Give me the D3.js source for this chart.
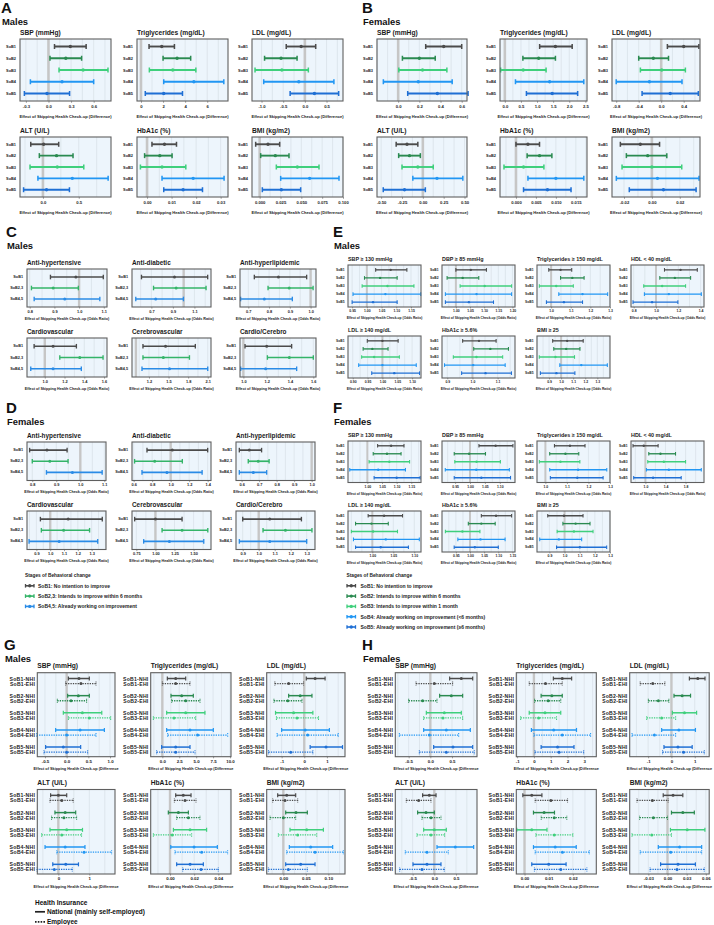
<!DOCTYPE html>
<html><head><meta charset="utf-8">
<script src="https://cdn.jsdelivr.net/npm/d3@7"></script>
<style>body{margin:0;background:#fff} svg{display:block} text{font-family:"Liberation Sans",Arial,sans-serif}</style>
</head><body><svg id="chart" width="714" height="925"></svg>
<script>
// ---------------- DATA ----------------
const SOB5 = ["SoB1","SoB2","SoB3","SoB4","SoB5"];
const SOB3 = ["SoB1","SoB2,3","SoB4,5"];
const SOB_INS = ["SoB1-NHI","SoB1-EHI","SoB2-NHI","SoB2-EHI","SoB3-NHI","SoB3-EHI","SoB4-NHI","SoB4-EHI","SoB5-NHI","SoB5-EHI"];

const DIFF_TITLES = ["SBP (mmHg)","Triglycerides (mg/dL)","LDL (mg/dL)","ALT (U/L)","HbA1c (%)","BMI (kg/m2)"];
const MED_TITLES = ["Anti-hypertensive","Anti-diabetic","Anti-hyperlipidemic","Cardiovascular","Cerebrovascular","Cardio/Cerebro"];
const RISK_TITLES = ["SBP \u2265 130 mmHg","DBP \u2265 85 mmHg","Triglycerides \u2265 150 mg/dL","HDL < 40 mg/dL","LDL \u2265 140 mg/dL","HbA1c \u2265 5.6%","BMI \u2265 25"];

// Panel A (Males, difference)
const A_ticks = [["-0.3","0.0","0.3","0.6"],["0","2","4","6"],["-1.0","-0.5","0.0","0.5"],["0.0","0.5"],["0.00","0.01","0.02","0.03"],["0.000","0.025","0.050","0.075","0.100"]];
const A_domain = [[-0.378,0.83],[-0.36,7.88],[-1.22,0.88],[-0.32,0.95],[-0.0041,0.033],[-0.0092,0.1]];
const A_low  = [[0.08,0.02,0.14,-0.24,-0.32],[0.73,2.0,0.76,2.06,0.39],[-0.43,-0.93,-1.15,-0.95,-0.34],[-0.17,-0.05,-0.18,-0.07,-0.27],[0.002,-0.001,-0.0027,0.0061,0.0068],[-0.0048,0.0012,0.02,0.0252,0.0032]];
const A_est  = [[0.29,0.23,0.46,0.18,-0.02],[1.88,3.27,2.88,4.79,2.06],[-0.085,-0.55,-0.53,-0.14,0.22],[0.01,0.19,0.2,0.41,0.05],[0.0071,0.0052,0.0061,0.0188,0.0147],[0.01,0.0188,0.0452,0.06,0.026]];
const A_high = [[0.5,0.44,0.79,0.6,0.28],[3.03,4.5,4.97,7.5,3.76],[0.25,-0.18,0.08,0.67,0.78],[0.22,0.42,0.57,0.91,0.37],[0.012,0.0102,0.0158,0.0314,0.0226],[0.024,0.0352,0.0712,0.0952,0.0492]];

// Panel B (Females, difference)
const B_ticks = [["0.0","0.2","0.4","0.6"],["0.0","0.5","1.0","1.5","2.0","2.5"],["-0.8","-0.4","0.0","0.4"],["-0.50","-0.25","0.00","0.25","0.50"],["0.000","0.005","0.010","0.015"],["-0.02","0.00","0.02"]];
const B_domain = [[-0.2,0.65],[-0.15,2.55],[-0.875,0.69],[-0.55,0.53],[-0.004,0.0178],[-0.0286,0.0345]];
const B_low  = [[0.26,0.04,0.006,-0.14,0.09],[1.08,0.56,-0.13,0.33,0.67],[0.11,-0.4,-0.37,-0.8,-0.34],[-0.32,-0.29,-0.25,-0.12,-0.475],[0.0,0.0028,-0.003,0.003,0.0019],[-0.0226,-0.0183,-0.0214,-0.0255,-0.0162]];
const B_est  = [[0.43,0.2,0.23,0.19,0.37],[1.57,1.05,0.57,1.39,1.47],[0.4,-0.14,0.01,-0.21,0.16],[-0.19,-0.16,-0.06,0.17,-0.22],[0.003,0.0059,0.0019,0.01,0.0079],[-0.0083,-0.003,0.0,0.004,0.0083]];
const B_high = [[0.6,0.35,0.46,0.51,0.66],[2.09,1.57,1.28,2.45,2.26],[0.67,0.13,0.43,0.37,0.66],[-0.06,-0.03,0.125,0.48,0.03],[0.0059,0.009,0.007,0.017,0.0138],[0.0055,0.0107,0.0214,0.0338,0.0317]];

// Panel C (Males, odds ratio)
const C_ticks = [["0.8","0.9","1.0","1.1"],["0.7","0.9","1.1"],["0.7","0.8","0.9","1.0"],["1.0","1.2","1.4","1.6"],["1.2","1.5","1.8","2.1"],["1.0","1.2","1.4","1.6"]];
const C_domain = [[0.789,1.113],[0.52,1.254],[0.66,1.026],[0.82,1.63],[0.94,2.15],[0.971,1.623]];
const C_low  = [[0.884,0.807,0.818],[0.608,0.72,0.555],[0.729,0.795,0.663],[0.892,1.152,0.858],[1.108,1.108,1.093],[1.014,1.206,0.977]];
const C_est  = [[0.987,0.895,0.942],[0.915,0.93,0.74],[0.845,0.897,0.777],[1.084,1.354,1.084],[1.454,1.42,1.515],[1.2,1.394,1.191]];
const C_high = [[1.098,0.997,1.084],[1.223,1.208,0.998],[0.981,1.012,0.912],[1.32,1.59,1.37],[1.91,1.82,2.1],[1.414,1.6,1.457]];

// Panel D (Females, odds ratio)
const D_ticks = [["0.8","0.9","1.0","1.1"],["0.6","0.8","1.0","1.2","1.4"],["0.6","0.7","0.8","0.9","1.0"],["0.9","1.0","1.1","1.2","1.3"],["0.75","1.00","1.25","1.50"],["0.9","1.0","1.1","1.2","1.3"]];
const D_domain = [[0.778,1.107],[0.582,1.436],[0.568,1.019],[0.832,1.404],[0.693,1.728],[0.858,1.352]];
const D_low  = [[0.789,0.8,0.859],[0.744,0.61,0.69],[0.587,0.638,0.587],[0.929,0.936,0.847],[0.728,1.087,0.846],[0.9,1.027,0.879]];
const D_est  = [[0.861,0.873,0.967],[1.018,0.827,0.96],[0.644,0.695,0.667],[1.13,1.097,1.065],[1.0,1.349,1.183],[1.069,1.167,1.069]];
const D_high = [[0.945,0.949,1.091],[1.4,1.126,1.34],[0.714,0.757,0.743],[1.377,1.285,1.344],[1.349,1.686,1.633],[1.267,1.333,1.3]];

// Panel E (Males, risk odds ratio)
const E_ticks = [["0.95","1.00","1.05","1.10","1.15"],["1.00","1.05","1.10","1.15","1.20"],["1.0","1.1","1.2","1.3"],["0.8","1.0","1.2","1.4"],["0.90","0.95","1.00","1.05","1.10"],["0.9","1.0","1.1"],["0.9","1.0","1.1","1.2","1.3"]];
const E_domain = [[0.936,1.184],[0.951,1.209],[0.928,1.3],[0.776,1.43],[0.884,1.13],[0.879,1.169],[0.8,1.405]];
const E_low  = [[1.03,0.992,0.984,0.953,0.95],[1.0,0.969,1.015,0.963,0.963],[0.988,1.048,0.94,1.039,0.976],[1.076,1.034,0.89,0.896,0.794],[0.949,0.935,0.93,0.92,0.964],[0.961,1.005,0.924,0.889,0.957],[0.93,0.939,0.819,0.989,0.828]];
const E_est  = [[1.081,1.045,1.07,1.063,1.021],[1.053,1.024,1.102,1.073,1.046],[1.048,1.108,1.026,1.16,1.065],[1.22,1.169,1.055,1.115,0.965],[1.0,0.966,0.972,1.0,1.04],[1.026,1.071,1.016,1.003,1.052],[1.05,1.042,0.953,1.167,0.961]];
const E_high = [[1.136,1.103,1.16,1.183,1.103],[1.108,1.081,1.197,1.197,1.133],[1.105,1.168,1.113,1.288,1.16],[1.37,1.31,1.265,1.406,1.196],[1.053,1.019,1.057,1.114,1.125],[1.094,1.143,1.12,1.13,1.155],[1.183,1.156,1.111,1.383,1.114]];

// Panel F (Females, risk odds ratio)
const F_ticks = [["1.00","1.05","1.10","1.15"],["0.95","1.00","1.05","1.10"],["1.0","1.1","1.2","1.3"],["1.0","1.4","1.8"],["1.00","1.05","1.10"],["0.95","1.00","1.05","1.10","1.15"],["0.9","1.0","1.1","1.2","1.3"]];
const F_domain = [[0.934,1.183],[0.906,1.151],[0.961,1.3],[0.713,2.167],[0.942,1.116],[0.901,1.159],[0.818,1.3]];
const F_low  = [[1.035,1.02,1.006,0.94,1.023],[1.03,0.947,0.949,0.917,0.947],[1.042,1.02,0.972,1.02,1.023],[0.753,1.067,1.047,1.02,0.767],[0.99,0.96,0.95,0.955,0.96],[1.04,0.994,0.913,0.957,0.944],[0.889,0.989,0.951,0.836,0.947]];
const F_est  = [[1.081,1.067,1.075,1.037,1.1],[1.086,0.997,1.022,1.021,1.038],[1.114,1.093,1.07,1.152,1.148],[0.967,1.3,1.367,1.467,1.153],[1.028,0.998,1.002,1.032,1.02],[1.092,1.04,0.973,1.037,1.017],[0.996,1.073,1.062,0.962,1.101]];
const F_high = [[1.125,1.115,1.144,1.13,1.18],[1.144,1.052,1.102,1.132,1.136],[1.184,1.155,1.16,1.285,1.268],[1.253,1.6,1.8,2.113,1.713],[1.072,1.038,1.06,1.112,1.086],[1.147,1.089,1.035,1.124,1.1],[1.122,1.168,1.188,1.113,1.278]];

// Panel G (Males, by health insurance)
const G_ticks = [["-0.5","0.0","0.5","1.0"],["0.0","2.5","5.0","7.5","10.0"],["-1","0","1"],["0","1"],["0.00","0.02","0.04"],["0.00","0.05","0.10"]];
const G_domain = [[-0.677,1.115],[-1.72,10.15],[-1.66,1.8],[-0.68,1.83],[-0.016,0.0505],[-0.037,0.137]];
const G_low  = [[0.04,-0.023,0.023,-0.215,-0.077,0.04,-0.254,-0.69,-0.485,-0.523],[0.74,0.0,1.28,1.38,0.64,-1.33,0.64,0.79,-0.1,-0.84],[0.09,-1.3,-0.69,-1.34,-1.27,-1.23,-1.0,-1.2,0.26,-1.58],[-0.25,-0.27,-0.11,-0.22,-0.27,-0.54,-0.43,-0.05,-0.18,-0.69],[0.0047,0.0036,-0.0014,0.0055,0.0028,-0.0138,0.0006,0.0041,0.0055,0.0105],[-0.0126,-0.0237,0.0052,-0.0296,0.0148,-0.0111,0.0133,0.0074,0.0052,-0.0333]];
const G_est  = [[0.285,0.33,0.27,0.1,0.362,0.523,0.31,0.0,-0.077,0.0],[1.97,1.97,2.86,3.45,3.45,1.72,4.09,5.22,1.97,1.97],[0.48,-0.69,-0.18,-0.73,-0.47,-0.32,0.04,0.15,0.96,-0.6],[0.0,0.11,0.22,0.18,0.27,0.11,0.22,0.83,0.24,-0.13],[0.011,0.0124,0.0069,0.0152,0.0166,0.0019,0.0199,0.0262,0.0166,0.0257],[0.0074,0.0037,0.0281,0.0,0.0519,0.0319,0.0607,0.0704,0.0385,0.0111]];
const G_high = [[0.523,0.677,0.523,0.46,0.81,1.015,0.87,0.677,0.323,0.485],[3.45,4.09,4.58,5.57,6.3,4.93,7.54,9.66,4.09,4.83],[0.92,-0.03,0.34,-0.1,0.38,0.63,1.11,1.5,1.69,0.38],[0.27,0.48,0.56,0.59,0.78,0.75,0.86,1.72,0.65,0.45],[0.0174,0.0215,0.0152,0.0248,0.0303,0.0179,0.0392,0.0477,0.0276,0.04],[0.0274,0.0319,0.0533,0.0274,0.089,0.0741,0.1096,0.1333,0.0704,0.0533]];

// Panel H (Females, by health insurance)
const H_ticks = [["-0.5","0.0","0.5"],["-1","0","1","2","3"],["-1","0","1"],["-0.5","0.0","0.5"],["0.00","0.01","0.02"],["-0.03","0.00","0.03","0.06"]];
const H_domain = [[-0.808,1.077],[-1.05,3.72],[-1.79,1.62],[-0.9,0.985],[-0.0034,0.0297],[-0.0592,0.0653]];
const H_low  = [[0.446,-0.33,0.215,-0.5,-0.092,-0.154,-0.154,-0.715,0.077,-0.254],[1.16,-0.28,0.43,0.04,-0.28,-0.79,-0.15,0.0,0.43,0.06],[0.77,-1.34,0.11,-0.99,0.04,-1.06,-0.42,-1.69,-0.32,-0.38],[-0.27,-0.646,-0.385,-0.285,-0.246,-0.4,0.062,-0.67,-0.492,-0.8],[-0.0007,0.0044,0.0037,0.0069,-0.0032,0.0047,0.0037,0.0044,0.003,0.0041],[-0.0067,-0.0478,0.0062,-0.0437,0.0046,-0.0556,-0.0144,-0.0427,-0.0108,-0.0273]];
const H_est  = [[0.715,0.092,0.485,-0.177,0.323,0.292,0.369,-0.023,0.523,0.369],[1.69,0.69,1.07,0.85,0.66,0.28,1.18,1.69,1.41,1.5],[1.13,-0.8,0.46,-0.56,0.56,-0.42,0.32,-0.73,0.28,0.52],[-0.115,-0.362,-0.192,-0.077,0.0,-0.077,0.485,-0.169,-0.169,-0.285],[0.003,0.0109,0.0081,0.0123,0.003,0.0123,0.0127,0.0157,0.01,0.015],[0.0087,-0.0237,0.024,-0.0221,0.0309,-0.0247,0.019,0.0051,0.0165,0.0149]];
const H_high = [[0.977,0.515,0.746,0.154,0.715,0.746,0.923,0.654,0.977,1.015],[2.25,1.69,1.69,1.6,1.6,1.35,2.54,3.38,2.39,2.97],[1.44,-0.28,0.82,-0.11,1.08,0.18,1.03,0.18,0.89,1.41],[0.04,-0.077,0.0,0.154,0.277,0.238,0.908,0.323,0.154,0.23],[0.0072,0.0178,0.0124,0.0175,0.0093,0.02,0.0214,0.0268,0.0172,0.0258],[0.024,0.001,0.042,0.0,0.0586,0.0062,0.0535,0.0535,0.0437,0.0576]];

const LEGEND3 = ["SoB1: No intention to improve","SoB2,3: Intends to improve within 6 months","SoB4,5: Already working on improvement"];
const LEGEND5 = ["SoB1: No intention to improve","SoB2: Intends to improve within 6 months","SoB3: Intends to improve within 1 month","SoB4: Already working on improvement (<6 months)","SoB5: Already working on improvement (\u22656 months)"];
const LEGEND_INS = ["National (mainly self-employed)","Employee"];

// ---------------- STYLE ----------------
const COL5 = ["#4b4b4b","#2a8a50","#3fcf7c","#2196f3","#1f6fd4"];
const COL3 = ["#4b4b4b","#34b468","#2a8be6"];
const COLINS = [0,0,1,1,2,2,3,3,4,4].map(i => COL5[i]);
const DASHINS = SOB_INS.map((d,i) => i % 2 === 1);
const BG = "#edf5fc", GRID = "#d4dbe2", REF = "#c6c6c6", BORDER = "#5f5f5f";
const AX_DIFF = "Effect of Skipping Health Check-up (Difference)";
const AX_OR = "Effect of Skipping Health Check-up (Odds Ratio)";
const AX_INS = "Effect of Skipping Health Check-up (Difference";

const svg = d3.select("#chart");

function rowPositions(n, y, h, pad, paired) {
  if (!paired) {
    const s = d3.scalePoint().domain(d3.range(n)).range([y, y + h]).padding(pad);
    return d3.range(n).map(s);
  }
  const s = d3.scalePoint().domain(d3.range(n / 2)).range([y, y + h]).padding(pad);
  return d3.range(n).map(j => s(Math.floor(j / 2)) + (j % 2 ? 3.2 : -1.9));
}

function forest(c) {
  const g = svg.append("g");
  const x = d3.scaleLinear().domain(c.domain).range([c.x, c.x + c.w]);
  const tv = c.ticks.map(Number);
  const ref = c.ref;
  g.append("rect").attr("x", c.x).attr("y", c.y).attr("width", c.w).attr("height", c.h).attr("fill", BG);
  const step = (tv.length > 1 ? tv[1] - tv[0] : Math.abs(tv[0] || 0.5)) / 2;
  const k0 = Math.ceil(c.domain[0] / step - 1e-6), k1 = Math.floor(c.domain[1] / step + 1e-6);
  g.selectAll(".grid").data(d3.range(k0, k1 + 1).map(k => k * step)).join("line")
    .attr("x1", d => x(d)).attr("x2", d => x(d)).attr("y1", c.y).attr("y2", c.y + c.h)
    .attr("stroke", GRID).attr("stroke-width", 0.6);
  g.append("line").attr("x1", x(ref)).attr("x2", x(ref)).attr("y1", c.y).attr("y2", c.y + c.h)
    .attr("stroke", REF).attr("stroke-width", c.refW);
  const ys = rowPositions(c.labels.length, c.y, c.h, c.pad, c.paired);
  const rows = c.labels.map((lab, i) => ({lab, y: ys[i], lo: c.low[i], est: c.est[i], hi: c.high[i], col: c.colors[i], dash: c.dashed ? c.dashed[i] : false}));
  const rg = g.selectAll(".row").data(rows).join("g");
  rg.append("line").attr("x1", d => x(d.lo)).attr("x2", d => x(d.hi)).attr("y1", d => d.y).attr("y2", d => d.y)
    .attr("stroke", d => d.col).attr("stroke-width", d => d.dash ? c.lw * 0.85 : c.lw)
    .attr("stroke-dasharray", d => d.dash ? "1.3,1.1" : null);
  [d => d.lo, d => d.hi].forEach(acc => {
    rg.append("line").attr("x1", d => x(acc(d))).attr("x2", d => x(acc(d)))
      .attr("y1", d => d.y - c.cap / 2).attr("y2", d => d.y + c.cap / 2)
      .attr("stroke", d => d.col).attr("stroke-width", d => d.dash ? c.lw * 0.7 : c.lw * 0.8)
      .attr("stroke-dasharray", d => d.dash ? "0.9,0.7" : null);
  });
  rg.append("circle").attr("cx", d => x(d.est)).attr("cy", d => d.y).attr("r", c.pr).attr("fill", d => d.col);
  g.append("rect").attr("x", c.x).attr("y", c.y).attr("width", c.w).attr("height", c.h)
    .attr("fill", "none").attr("stroke", BORDER).attr("stroke-width", 1.1);
  const ax = g.append("g").attr("transform", `translate(0,${c.y + c.h})`)
    .call(d3.axisBottom(x).tickValues(tv).tickFormat((d, i) => c.ticks[i]).tickSize(c.tickLen).tickPadding(c.tickPad));
  ax.select(".domain").remove();
  ax.selectAll(".tick line").attr("stroke", BORDER).attr("stroke-width", 0.6);
  ax.selectAll(".tick text").attr("font-size", c.tickFs).attr("font-weight", "bold").attr("fill", "#222")
    .attr("font-family", "Liberation Sans, Arial, sans-serif");
  g.selectAll(".lab").data(rows).join("text").attr("x", c.x - c.labGap).attr("y", d => d.y)
    .attr("text-anchor", "end").attr("dominant-baseline", "central")
    .attr("font-size", c.labFs).attr("letter-spacing", c.labLs || 0).attr("font-weight", "bold").attr("fill", "#222").text(d => d.lab);
  g.append("text").attr("x", c.x + c.titleDx).attr("y", c.y - c.titleGap).attr("font-size", c.titleFs)
    .attr("font-weight", "bold").attr("fill", "#1a1a1a").text(c.title);
  g.append("text").attr("x", c.x + c.w / 2 + (c.axDx || 0)).attr("y", c.y + c.h + c.axGap).attr("text-anchor", "middle")
    .attr("font-size", c.axFs).attr("font-weight", "bold").attr("fill", "#222").text(c.axisTitle);
}

function panel(P) {
  P.titles.forEach((t, i) => {
    const col = i % P.ncol, row = Math.floor(i / P.ncol);
    forest(Object.assign({}, P.style, {
      x: P.cols[col], w: P.widths[col], y: P.rowsY[row], h: P.heights[row],
      title: t, ticks: P.ticks[i], domain: P.domain[i], low: P.low[i], est: P.est[i], high: P.high[i],
      labels: P.labels, colors: P.colors, dashed: P.dashed, axisTitle: P.axisTitle, ref: P.ref
    }));
  });
}

function heading(letter, sub, x, y) {
  svg.append("text").attr("x", x).attr("y", y).attr("font-size", 15).attr("font-weight", "bold").attr("fill", "#111").text(letter);
  svg.append("text").attr("x", x + 1).attr("y", y + 12).attr("font-size", 9.4).attr("font-weight", "bold").attr("fill", "#111").text(sub);
}

// ---------------- LAYOUT ----------------
const styleAB = {pad: 0.64, lw: 1.9, cap: 5, pr: 1.7, refW: 2.6, tickLen: 1.8, tickPad: 2, tickFs: 4.2, labFs: 3.9, labGap: 4, titleFs: 6.7, titleGap: 4, titleDx: 0, axFs: 4.1, axGap: 16.5};
const styleCD = {pad: 0.73, lw: 1.7, cap: 4.6, pr: 1.5, refW: 2.4, tickLen: 1.6, tickPad: 1.4, tickFs: 3.9, labFs: 3.8, labGap: 4, titleFs: 6.4, titleGap: 4, titleDx: 0, axFs: 3.7, axGap: 12.5};
const styleEF = {pad: 0.6, lw: 1.35, cap: 3.6, pr: 1.2, refW: 2.0, tickLen: 1.4, tickPad: 1.2, tickFs: 3.4, labFs: 3.3, labGap: 3.5, titleFs: 5.4, titleGap: 4, titleDx: 0, axFs: 3.3, axGap: 12};
const styleGH = {pad: 0.45, lw: 1.5, cap: 4, pr: 1.5, refW: 2.4, tickLen: 1.6, tickPad: 1.6, tickFs: 4.4, labFs: 5.1, labLs: 0.25, labGap: 2.2, titleFs: 6.7, titleGap: 4.5, titleDx: 0, axFs: 3.85, axGap: 13.5, paired: true, axDx: 0};

heading("A", "Males", 1, 12.5);
panel({titles: DIFF_TITLES, ticks: A_ticks, domain: A_domain, low: A_low, est: A_est, high: A_high, labels: SOB5, colors: COL5, ncol: 3,
  cols: [20, 137, 252], widths: [91, 91, 91], rowsY: [39, 137], heights: [62, 60], style: styleAB, axisTitle: AX_DIFF, ref: 0});

heading("B", "Females", 362, 12.5);
panel({titles: DIFF_TITLES, ticks: B_ticks, domain: B_domain, low: B_low, est: B_est, high: B_high, labels: SOB5, colors: COL5, ncol: 3,
  cols: [377, 500, 612], widths: [90, 87, 88], rowsY: [39, 137], heights: [62, 60], style: styleAB, axisTitle: AX_DIFF, ref: 0});

heading("C", "Males", 6, 237);
panel({titles: MED_TITLES, ticks: C_ticks, domain: C_domain, low: C_low, est: C_est, high: C_high, labels: SOB3, colors: COL3, ncol: 3,
  cols: [27, 132, 240], widths: [80, 79, 76], rowsY: [269, 338], heights: [38, 39], style: styleCD, axisTitle: AX_OR, ref: 1});

heading("D", "Females", 6, 413);
panel({titles: MED_TITLES, ticks: D_ticks, domain: D_domain, low: D_low, est: D_est, high: D_high, labels: SOB3, colors: COL3, ncol: 3,
  cols: [27, 132, 236], widths: [79, 79, 79], rowsY: [442, 511], heights: [38.5, 38.5], style: styleCD, axisTitle: AX_OR, ref: 1});

heading("E", "Males", 333, 237);
panel({titles: RISK_TITLES, ticks: E_ticks, domain: E_domain, low: E_low, est: E_est, high: E_high, labels: SOB5, colors: COL5, ncol: 4,
  cols: [348, 442, 537, 631], widths: [73, 73, 73, 73], rowsY: [265, 336], heights: [42, 42], style: styleEF, axisTitle: AX_OR, ref: 1});

heading("F", "Females", 333, 413);
panel({titles: RISK_TITLES, ticks: F_ticks, domain: F_domain, low: F_low, est: F_est, high: F_high, labels: SOB5, colors: COL5, ncol: 4,
  cols: [348, 442, 537, 631], widths: [73, 73, 73, 73], rowsY: [441, 511], heights: [41.5, 41], style: styleEF, axisTitle: AX_OR, ref: 1});

heading("G", "Males", 4, 650);
panel({titles: DIFF_TITLES, ticks: G_ticks, domain: G_domain, low: G_low, est: G_est, high: G_high, labels: SOB_INS, colors: COLINS, dashed: DASHINS, ncol: 3,
  cols: [37.3, 150.7, 266.7], widths: [77.7, 80.3, 78.3], rowsY: [672.7, 789.5], heights: [84, 84.5], style: styleGH, axisTitle: AX_INS, ref: 0});

heading("H", "Females", 362, 650);
panel({titles: DIFF_TITLES, ticks: H_ticks, domain: H_domain, low: H_low, est: H_est, high: H_high, labels: SOB_INS, colors: COLINS, dashed: DASHINS, ncol: 3,
  cols: [395.3, 516.3, 629.7], widths: [81.7, 80, 79.5], rowsY: [672.7, 789.5], heights: [84, 84.5], style: styleGH, axisTitle: AX_INS, ref: 0});

// ---------------- LEGENDS ----------------
function stageLegend(x, y0, items, colors, textX) {
  const g = svg.append("g");
  g.append("text").attr("x", x).attr("y", y0).attr("dominant-baseline", "central").attr("font-size", 4.8)
    .attr("font-weight", "bold").attr("fill", "#222").text("Stages of Behavioral change");
  const ys = items.map((d, i) => y0 + 10.3 * (i + 1));
  const it = g.selectAll(".it").data(items.map((t, i) => ({t, y: ys[i], c: colors[i]}))).join("g");
  it.append("line").attr("x1", x + 0.5).attr("x2", x + 9).attr("y1", d => d.y).attr("y2", d => d.y).attr("stroke", d => d.c).attr("stroke-width", 1.6);
  [x + 0.5, x + 9].forEach(cx => it.append("line").attr("x1", cx).attr("x2", cx).attr("y1", d => d.y - 1.8).attr("y2", d => d.y + 1.8).attr("stroke", d => d.c).attr("stroke-width", 1.3));
  it.append("circle").attr("cx", x + 4.75).attr("cy", d => d.y).attr("r", 1.7).attr("fill", d => d.c);
  it.append("text").attr("x", textX).attr("y", d => d.y).attr("dominant-baseline", "central").attr("font-size", 5)
    .attr("font-weight", "bold").attr("fill", "#222").text(d => d.t);
}
stageLegend(25, 575.5, LEGEND3, COL3, 38);
stageLegend(346.5, 575.5, LEGEND5, COL5, 360.5);

(function insLegend() {
  const g = svg.append("g");
  g.append("text").attr("x", 35).attr("y", 902.7).attr("dominant-baseline", "central").attr("font-size", 6.5)
    .attr("font-weight", "bold").attr("fill", "#111").text("Health Insurance");
  LEGEND_INS.forEach((t, i) => {
    const y = 911.8 + 10 * i;
    g.append("line").attr("x1", 35).attr("x2", 45).attr("y1", y).attr("y2", y).attr("stroke", "#222")
      .attr("stroke-width", 1.7).attr("stroke-dasharray", i ? "1.6,1.2" : null);
    g.append("text").attr("x", 47).attr("y", y).attr("dominant-baseline", "central").attr("font-size", 6.5)
      .attr("font-weight", "bold").attr("fill", "#111").text(t);
  });
})();
</script></body></html>
